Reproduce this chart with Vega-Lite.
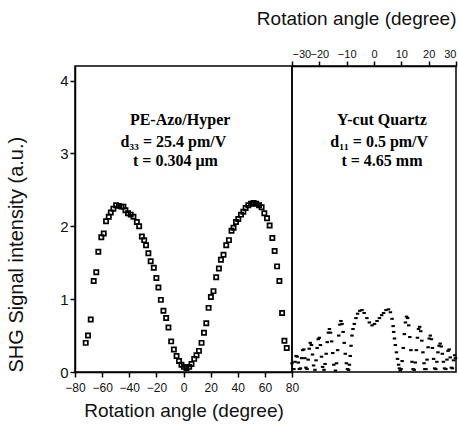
{
  "$schema": "https://vega.github.io/schema/vega-lite/v6.json",
  "background": "white",
  "padding": {"left": 5, "top": 8, "right": 2, "bottom": 5},
  "spacing": 0,
  "bounds": "flush",
  "datasets": {
    "film": [
      {"angle": -72.1, "signal": 0.40}, {"angle": -70.4, "signal": 0.50}, {"angle": -68.4, "signal": 0.72},
      {"angle": -66.2, "signal": 1.25}, {"angle": -64.3, "signal": 1.37}, {"angle": -62.8, "signal": 1.65},
      {"angle": -60.6, "signal": 1.85}, {"angle": -58.8, "signal": 1.90}, {"angle": -57.1, "signal": 2.07},
      {"angle": -55.1, "signal": 2.13}, {"angle": -53.6, "signal": 2.19}, {"angle": -51.7, "signal": 2.24},
      {"angle": -49.7, "signal": 2.29}, {"angle": -47.7, "signal": 2.28}, {"angle": -45.8, "signal": 2.27},
      {"angle": -44.3, "signal": 2.27}, {"angle": -42.8, "signal": 2.22}, {"angle": -40.9, "signal": 2.18},
      {"angle": -38.9, "signal": 2.16}, {"angle": -36.9, "signal": 2.13}, {"angle": -34.4, "signal": 2.06},
      {"angle": -32.7, "signal": 2.00}, {"angle": -30.7, "signal": 1.86}, {"angle": -29.0, "signal": 1.81},
      {"angle": -27.6, "signal": 1.74}, {"angle": -25.9, "signal": 1.63}, {"angle": -24.2, "signal": 1.52},
      {"angle": -21.9, "signal": 1.43}, {"angle": -20.0, "signal": 1.29}, {"angle": -18.5, "signal": 1.16},
      {"angle": -16.7, "signal": 0.99}, {"angle": -14.8, "signal": 0.84}, {"angle": -12.8, "signal": 0.74},
      {"angle": -11.1, "signal": 0.61}, {"angle": -9.1, "signal": 0.42}, {"angle": -7.1, "signal": 0.31},
      {"angle": -5.1, "signal": 0.22}, {"angle": -3.3, "signal": 0.15}, {"angle": -1.5, "signal": 0.10},
      {"angle": 0.3, "signal": 0.07}, {"angle": 2.2, "signal": 0.055}, {"angle": 4.2, "signal": 0.07},
      {"angle": 5.9, "signal": 0.11}, {"angle": 7.9, "signal": 0.18}, {"angle": 9.6, "signal": 0.23},
      {"angle": 11.4, "signal": 0.29}, {"angle": 13.3, "signal": 0.40}, {"angle": 15.1, "signal": 0.54},
      {"angle": 16.8, "signal": 0.67}, {"angle": 18.5, "signal": 0.88}, {"angle": 20.2, "signal": 1.03},
      {"angle": 22.1, "signal": 1.11}, {"angle": 24.1, "signal": 1.30}, {"angle": 26.1, "signal": 1.42},
      {"angle": 27.6, "signal": 1.54}, {"angle": 29.5, "signal": 1.61}, {"angle": 31.5, "signal": 1.74},
      {"angle": 33.5, "signal": 1.81}, {"angle": 35.4, "signal": 1.94}, {"angle": 36.9, "signal": 1.98},
      {"angle": 38.7, "signal": 2.06}, {"angle": 40.4, "signal": 2.10}, {"angle": 42.4, "signal": 2.16},
      {"angle": 44.1, "signal": 2.20}, {"angle": 45.8, "signal": 2.25}, {"angle": 47.8, "signal": 2.29},
      {"angle": 49.8, "signal": 2.31}, {"angle": 51.7, "signal": 2.32}, {"angle": 53.7, "signal": 2.31},
      {"angle": 55.7, "signal": 2.29}, {"angle": 57.6, "signal": 2.26}, {"angle": 59.6, "signal": 2.18},
      {"angle": 61.6, "signal": 2.11}, {"angle": 63.5, "signal": 2.01}, {"angle": 65.5, "signal": 1.84},
      {"angle": 67.2, "signal": 1.66}, {"angle": 69.0, "signal": 1.45}, {"angle": 70.7, "signal": 1.25},
      {"angle": 72.7, "signal": 0.81}, {"angle": 74.4, "signal": 0.43}, {"angle": 76.1, "signal": 0.33}
    ],
    "quartz": [
      {"angle": -30.0, "signal": 0.12}, {"angle": -29.7, "signal": 0.04},
      {"angle": -29.3, "signal": 0.04}, {"angle": -28.9, "signal": 0.14}, {"angle": -28.5, "signal": 0.22}, {"angle": -28.1, "signal": 0.21}, {"angle": -27.7, "signal": 0.13}, {"angle": -27.3, "signal": 0.04},
      {"angle": -26.9, "signal": 0.05}, {"angle": -26.5, "signal": 0.19}, {"angle": -26.1, "signal": 0.30}, {"angle": -25.7, "signal": 0.31}, {"angle": -25.3, "signal": 0.19}, {"angle": -24.9, "signal": 0.06},
      {"angle": -24.5, "signal": 0.04}, {"angle": -24.1, "signal": 0.17}, {"angle": -23.7, "signal": 0.32}, {"angle": -23.3, "signal": 0.40}, {"angle": -22.9, "signal": 0.37}, {"angle": -22.5, "signal": 0.24}, {"angle": -22.1, "signal": 0.09},
      {"angle": -21.6, "signal": 0.03}, {"angle": -21.2, "signal": 0.16}, {"angle": -20.8, "signal": 0.33}, {"angle": -20.4, "signal": 0.45}, {"angle": -20.0, "signal": 0.47}, {"angle": -19.6, "signal": 0.37}, {"angle": -19.2, "signal": 0.21}, {"angle": -18.8, "signal": 0.07},
      {"angle": -18.3, "signal": 0.03}, {"angle": -17.9, "signal": 0.11}, {"angle": -17.5, "signal": 0.25}, {"angle": -17.1, "signal": 0.41}, {"angle": -16.7, "signal": 0.54}, {"angle": -16.3, "signal": 0.59}, {"angle": -15.9, "signal": 0.54}, {"angle": -15.5, "signal": 0.42}, {"angle": -15.1, "signal": 0.26}, {"angle": -14.7, "signal": 0.10},
      {"angle": -14.1, "signal": 0.02}, {"angle": -13.7, "signal": 0.12}, {"angle": -13.3, "signal": 0.30}, {"angle": -12.9, "signal": 0.50}, {"angle": -12.5, "signal": 0.65}, {"angle": -12.1, "signal": 0.70}, {"angle": -11.7, "signal": 0.66}, {"angle": -11.3, "signal": 0.55}, {"angle": -10.9, "signal": 0.40}, {"angle": -10.5, "signal": 0.25}, {"angle": -10.1, "signal": 0.12}, {"angle": -9.7, "signal": 0.04},
      {"angle": -9.3, "signal": 0.03}, {"angle": -9.0, "signal": 0.10}, {"angle": -8.7, "signal": 0.22}, {"angle": -8.4, "signal": 0.36}, {"angle": -8.05, "signal": 0.50}, {"angle": -7.7, "signal": 0.59}, {"angle": -7.2, "signal": 0.66}, {"angle": -6.6, "signal": 0.74}, {"angle": -6.0, "signal": 0.80}, {"angle": -5.2, "signal": 0.84}, {"angle": -4.4, "signal": 0.85}, {"angle": -3.6, "signal": 0.81}, {"angle": -2.6, "signal": 0.74}, {"angle": -1.7, "signal": 0.68}, {"angle": -0.7, "signal": 0.64}, {"angle": 0.2, "signal": 0.66}, {"angle": 1.1, "signal": 0.70}, {"angle": 2.0, "signal": 0.74}, {"angle": 2.8, "signal": 0.78}, {"angle": 3.5, "signal": 0.81}, {"angle": 4.4, "signal": 0.85}, {"angle": 5.3, "signal": 0.86}, {"angle": 6.0, "signal": 0.82}, {"angle": 6.6, "signal": 0.73}, {"angle": 7.0, "signal": 0.63}, {"angle": 7.2, "signal": 0.55}, {"angle": 7.5, "signal": 0.46}, {"angle": 7.8, "signal": 0.37}, {"angle": 8.2, "signal": 0.27}, {"angle": 8.6, "signal": 0.18}, {"angle": 9.0, "signal": 0.10}, {"angle": 9.3, "signal": 0.05}, {"angle": 9.6, "signal": 0.02},
      {"angle": 9.9, "signal": 0.04}, {"angle": 10.3, "signal": 0.15}, {"angle": 10.7, "signal": 0.33}, {"angle": 11.1, "signal": 0.52}, {"angle": 11.5, "signal": 0.68}, {"angle": 11.9, "signal": 0.76}, {"angle": 12.3, "signal": 0.74}, {"angle": 12.7, "signal": 0.64}, {"angle": 13.1, "signal": 0.48}, {"angle": 13.5, "signal": 0.30}, {"angle": 13.9, "signal": 0.14}, {"angle": 14.3, "signal": 0.04},
      {"angle": 14.7, "signal": 0.03}, {"angle": 15.1, "signal": 0.13}, {"angle": 15.5, "signal": 0.30}, {"angle": 15.9, "signal": 0.47}, {"angle": 16.3, "signal": 0.59}, {"angle": 16.7, "signal": 0.62}, {"angle": 17.1, "signal": 0.56}, {"angle": 17.5, "signal": 0.43}, {"angle": 17.9, "signal": 0.27}, {"angle": 18.3, "signal": 0.12}, {"angle": 18.6, "signal": 0.04},
      {"angle": 19.0, "signal": 0.04}, {"angle": 19.4, "signal": 0.17}, {"angle": 19.8, "signal": 0.34}, {"angle": 20.2, "signal": 0.46}, {"angle": 20.6, "signal": 0.50}, {"angle": 21.0, "signal": 0.45}, {"angle": 21.4, "signal": 0.33}, {"angle": 21.8, "signal": 0.18}, {"angle": 22.2, "signal": 0.05},
      {"angle": 22.6, "signal": 0.04}, {"angle": 23.0, "signal": 0.14}, {"angle": 23.4, "signal": 0.27}, {"angle": 23.8, "signal": 0.36}, {"angle": 24.2, "signal": 0.39}, {"angle": 24.6, "signal": 0.35}, {"angle": 25.0, "signal": 0.25}, {"angle": 25.4, "signal": 0.14}, {"angle": 25.8, "signal": 0.05},
      {"angle": 26.3, "signal": 0.04}, {"angle": 26.7, "signal": 0.17}, {"angle": 27.1, "signal": 0.29}, {"angle": 27.5, "signal": 0.31}, {"angle": 27.9, "signal": 0.20}, {"angle": 28.3, "signal": 0.06},
      {"angle": 28.7, "signal": 0.05}, {"angle": 29.1, "signal": 0.16}, {"angle": 29.5, "signal": 0.23}, {"angle": 29.8, "signal": 0.19}
    ],
    "filmLabels": [
      {"angle": -2.5, "signal": 3.46, "text": "PE-Azo/Hyper"},
      {"angle": -7.5, "signal": 3.16, "text": "d₃₃ = 25.4 pm/V"},
      {"angle": -6.0, "signal": 2.90, "text": "t = 0.304 μm"}
    ],
    "quartzLabels": [
      {"angle": 2.9, "signal": 3.46, "text": "Y-cut Quartz"},
      {"angle": 1.9, "signal": 3.16, "text": "d₁₁ = 0.5 pm/V"},
      {"angle": 2.9, "signal": 2.90, "text": "t = 4.65 mm"}
    ]
  },
  "hconcat": [
    {
      "width": 217,
      "height": 306,
      "encoding": {
        "x": {"field": "angle", "type": "quantitative", "scale": {"domain": [-80, 80], "nice": false},
              "axis": {"values": [-80, -60, -40, -20, 0, 20, 40, 60, 80], "format": "d", "labelOverlap": false, "title": "Rotation angle (degree)", "titleFontSize": 19, "titlePadding": 8, "labelPadding": 5, "labelFontSize": 12}},
        "y": {"field": "signal", "type": "quantitative", "scale": {"domain": [0, 4.2], "nice": false},
              "axis": {"values": [0, 1, 2, 3, 4], "format": "d", "labelOverlap": false, "title": "SHG Signal intensity (a.u.)", "titleFontSize": 20, "titlePadding": 33, "titleAnchor": "start", "labelFontSize": 15}}
      },
      "layer": [
        {
          "data": {"name": "film"},
          "mark": {"type": "point", "shape": "square", "filled": false, "stroke": "black", "strokeWidth": 1.7, "size": 18, "opacity": 1}
        },
        {
          "data": {"name": "filmLabels"},
          "mark": {"type": "text", "font": "Liberation Serif", "fontWeight": "bold", "fontSize": 16, "color": "black"},
          "encoding": {"text": {"field": "text"}}
        }
      ]
    },
    {
      "width": 164,
      "height": 306,
      "encoding": {
        "x": {"field": "angle", "type": "quantitative", "scale": {"domain": [-30, 30], "nice": false},
              "axis": {"orient": "top", "values": [-30, -20, -10, 0, 10, 20, 30], "format": "d", "labelOverlap": false, "labelFlush": true, "title": "Rotation angle (degree)", "titleFontSize": 19, "titlePadding": 20, "titleAnchor": "end", "labelFontSize": 11}},
        "y": {"field": "signal", "type": "quantitative", "scale": {"domain": [0, 4.2], "nice": false}, "axis": null}
      },
      "layer": [
        {
          "data": {"name": "quartz"},
          "mark": {"type": "point", "shape": "M-1,-0.6H1V0.6H-1Z", "filled": true, "color": "black", "size": 12, "opacity": 1}
        },
        {
          "data": {"name": "quartzLabels"},
          "mark": {"type": "text", "font": "Liberation Serif", "fontWeight": "bold", "fontSize": 16, "color": "black"},
          "encoding": {"text": {"field": "text"}}
        }
      ]
    }
  ],
  "config": {
    "view": {"stroke": "black", "strokeWidth": 1.5},
    "concat": {"spacing": 0},
    "font": "Liberation Sans",
    "axis": {
      "grid": false,
      "domainColor": "black",
      "domainWidth": 1.5,
      "tickColor": "black",
      "tickWidth": 1.5,
      "tickSize": 5,
      "labelColor": "#111",
      "labelFont": "Liberation Sans",
      "labelPadding": 2,
      "labelOverlap": false,
      "titleColor": "#111",
      "titleFont": "Liberation Sans",
      "titleFontWeight": "normal",
      "labelFlush": false
    }
  }
}
